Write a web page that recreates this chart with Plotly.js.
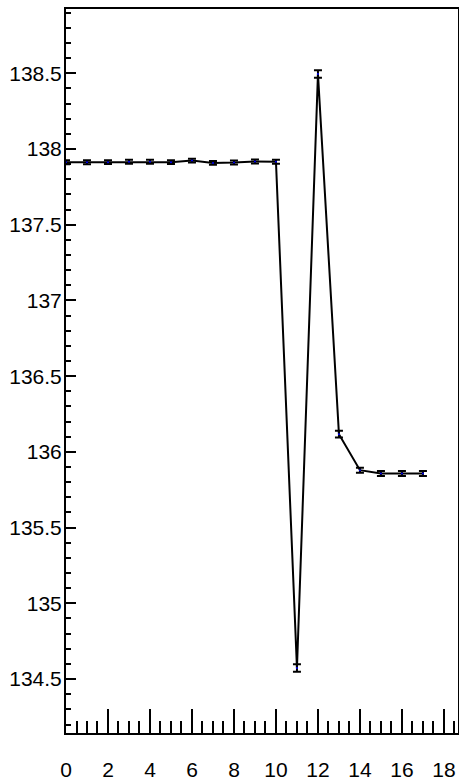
<!DOCTYPE html>
<html>
<head>
<meta charset="utf-8">
<script src="https://cdn.plot.ly/plotly-3.0.1.min.js"></script>
<style>html,body{margin:0;padding:0;background:#fff;}#chart{width:459px;height:781px;}</style>
</head>
<body>
<div id="chart"></div>
<script>
const xValues = [0,1,2,3,4,5,6,7,8,9,10,11,12,13,14,15,16,17];
const yValues = [137.912,137.912,137.913,137.916,137.915,137.913,137.923,137.908,137.910,137.917,137.916,134.573,138.495,136.117,135.879,135.857,135.857,135.857];
const yErrors = [0.013,0.013,0.013,0.013,0.013,0.013,0.013,0.013,0.013,0.013,0.013,0.025,0.025,0.022,0.017,0.017,0.017,0.017];
const xTickVals = [0,2,4,6,8,10,12,14,16,18];
const yTickVals = [134.5,135,135.5,136,136.5,137,137.5,138,138.5];
const yTickText = ['134.5','135','135.5','136','136.5','137','137.5','138','138.5'];

const trace = {
  x: xValues, y: yValues, type: 'scatter', mode: 'lines+markers',
  line: {color: '#000', width: 2},
  marker: {color: '#0000ff', size: 2},
  error_y: {type: 'data', array: yErrors, visible: true, color: '#000', thickness: 2, width: 4}
};
const font = {family: 'Liberation Sans, Arial, sans-serif', size: 21, color: '#000'};
const layout = {
  width: 459, height: 781,
  margin: {l: 66, r: 1, t: 9, b: 48},
  paper_bgcolor: '#fff', plot_bgcolor: '#fff',
  showlegend: false,
  font: font,
  xaxis: {
    range: [0, 18.67], showgrid: false, zeroline: false,
    showline: true, linecolor: '#000', linewidth: 2, mirror: true,
    ticks: 'inside', ticklen: 24, tickwidth: 2, tickcolor: '#000',
    tickvals: xTickVals, ticklabelstandoff: 17,
    minor: {dtick: 0.5, ticks: 'inside', ticklen: 12, tickwidth: 2, tickcolor: '#000', showgrid: false},
    tickfont: font
  },
  yaxis: {
    range: [134.144, 138.924], showgrid: false, zeroline: false,
    showline: true, linecolor: '#000', linewidth: 2, mirror: true,
    ticks: 'inside', ticklen: 10, tickwidth: 2, tickcolor: '#000',
    tickvals: yTickVals, ticktext: yTickText, ticklabelstandoff: -2,
    minor: {dtick: 0.1, ticks: 'inside', ticklen: 5, tickwidth: 2, tickcolor: '#000', showgrid: false},
    tickfont: font
  }
};
Plotly.newPlot('chart', [trace], layout, {displayModeBar: false, staticPlot: true});
</script>
</body>
</html>
